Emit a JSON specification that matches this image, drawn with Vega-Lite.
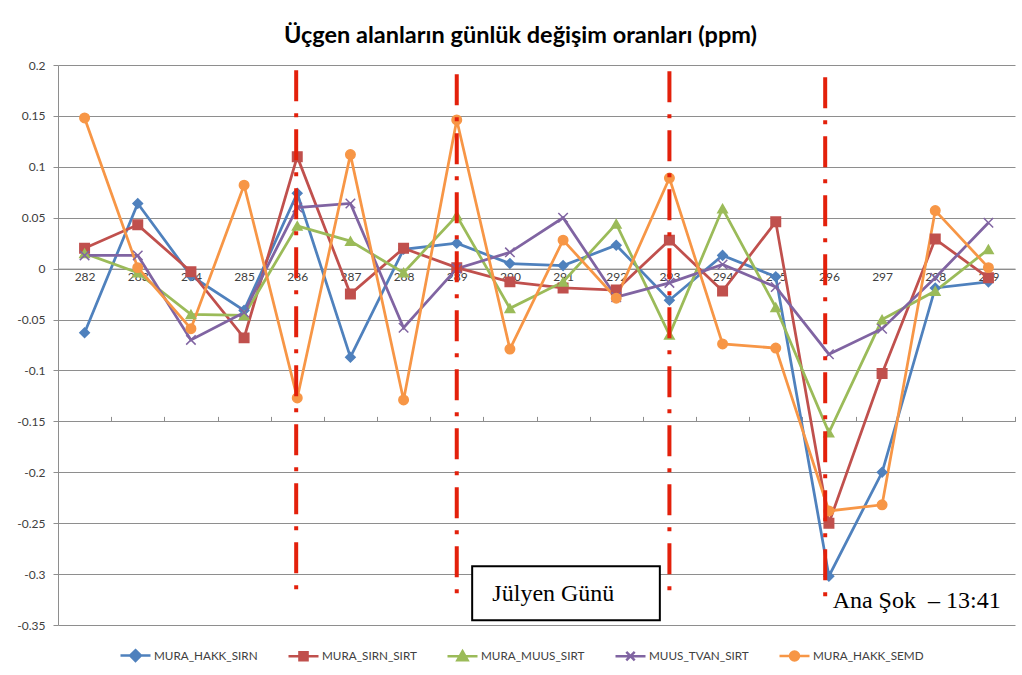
{
  "$schema": "https://vega.github.io/schema/vega-lite/v6.json",
  "autosize": {"type": "none"},
  "padding": {"left": 58, "top": 65, "right": 7, "bottom": 50},
  "width": 957,
  "height": 560,
  "background": "white",
  "config": {
    "view": {"stroke": null},
    "font": "Lato"
  },
  "title": {
    "text": "Üçgen alanların günlük değişim oranları (ppm)",
    "font": "Lato",
    "fontSize": 23.5,
    "fontWeight": "bold",
    "color": "#000000",
    "anchor": "middle",
    "dx": -16,
    "offset": 12
  },
  "datasets": {
    "rates": [
      {"day": 282, "series": "MURA_HAKK_SIRN", "value": -0.063},
      {"day": 283, "series": "MURA_HAKK_SIRN", "value": 0.064},
      {"day": 284, "series": "MURA_HAKK_SIRN", "value": -0.007},
      {"day": 285, "series": "MURA_HAKK_SIRN", "value": -0.041},
      {"day": 286, "series": "MURA_HAKK_SIRN", "value": 0.074},
      {"day": 287, "series": "MURA_HAKK_SIRN", "value": -0.087},
      {"day": 288, "series": "MURA_HAKK_SIRN", "value": 0.019},
      {"day": 289, "series": "MURA_HAKK_SIRN", "value": 0.025},
      {"day": 290, "series": "MURA_HAKK_SIRN", "value": 0.005},
      {"day": 291, "series": "MURA_HAKK_SIRN", "value": 0.003},
      {"day": 292, "series": "MURA_HAKK_SIRN", "value": 0.023},
      {"day": 293, "series": "MURA_HAKK_SIRN", "value": -0.031},
      {"day": 294, "series": "MURA_HAKK_SIRN", "value": 0.013},
      {"day": 295, "series": "MURA_HAKK_SIRN", "value": -0.008},
      {"day": 296, "series": "MURA_HAKK_SIRN", "value": -0.302},
      {"day": 297, "series": "MURA_HAKK_SIRN", "value": -0.2},
      {"day": 298, "series": "MURA_HAKK_SIRN", "value": -0.019},
      {"day": 299, "series": "MURA_HAKK_SIRN", "value": -0.013},
      {"day": 282, "series": "MURA_SIRN_SIRT", "value": 0.02},
      {"day": 283, "series": "MURA_SIRN_SIRT", "value": 0.043},
      {"day": 284, "series": "MURA_SIRN_SIRT", "value": -0.003},
      {"day": 285, "series": "MURA_SIRN_SIRT", "value": -0.068},
      {"day": 286, "series": "MURA_SIRN_SIRT", "value": 0.11},
      {"day": 287, "series": "MURA_SIRN_SIRT", "value": -0.025},
      {"day": 288, "series": "MURA_SIRN_SIRT", "value": 0.02},
      {"day": 289, "series": "MURA_SIRN_SIRT", "value": 0.001},
      {"day": 290, "series": "MURA_SIRN_SIRT", "value": -0.013},
      {"day": 291, "series": "MURA_SIRN_SIRT", "value": -0.019},
      {"day": 292, "series": "MURA_SIRN_SIRT", "value": -0.021},
      {"day": 293, "series": "MURA_SIRN_SIRT", "value": 0.028},
      {"day": 294, "series": "MURA_SIRN_SIRT", "value": -0.022},
      {"day": 295, "series": "MURA_SIRN_SIRT", "value": 0.046},
      {"day": 296, "series": "MURA_SIRN_SIRT", "value": -0.25},
      {"day": 297, "series": "MURA_SIRN_SIRT", "value": -0.103},
      {"day": 298, "series": "MURA_SIRN_SIRT", "value": 0.029},
      {"day": 299, "series": "MURA_SIRN_SIRT", "value": -0.009},
      {"day": 282, "series": "MURA_MUUS_SIRT", "value": 0.015},
      {"day": 283, "series": "MURA_MUUS_SIRT", "value": -0.004},
      {"day": 284, "series": "MURA_MUUS_SIRT", "value": -0.045},
      {"day": 285, "series": "MURA_MUUS_SIRT", "value": -0.046},
      {"day": 286, "series": "MURA_MUUS_SIRT", "value": 0.042},
      {"day": 287, "series": "MURA_MUUS_SIRT", "value": 0.027},
      {"day": 288, "series": "MURA_MUUS_SIRT", "value": -0.004},
      {"day": 289, "series": "MURA_MUUS_SIRT", "value": 0.052},
      {"day": 290, "series": "MURA_MUUS_SIRT", "value": -0.039},
      {"day": 291, "series": "MURA_MUUS_SIRT", "value": -0.013},
      {"day": 292, "series": "MURA_MUUS_SIRT", "value": 0.044},
      {"day": 293, "series": "MURA_MUUS_SIRT", "value": -0.065},
      {"day": 294, "series": "MURA_MUUS_SIRT", "value": 0.059},
      {"day": 295, "series": "MURA_MUUS_SIRT", "value": -0.038},
      {"day": 296, "series": "MURA_MUUS_SIRT", "value": -0.161},
      {"day": 297, "series": "MURA_MUUS_SIRT", "value": -0.05},
      {"day": 298, "series": "MURA_MUUS_SIRT", "value": -0.022},
      {"day": 299, "series": "MURA_MUUS_SIRT", "value": 0.019},
      {"day": 282, "series": "MUUS_TVAN_SIRT", "value": 0.013},
      {"day": 283, "series": "MUUS_TVAN_SIRT", "value": 0.013},
      {"day": 284, "series": "MUUS_TVAN_SIRT", "value": -0.07},
      {"day": 285, "series": "MUUS_TVAN_SIRT", "value": -0.043},
      {"day": 286, "series": "MUUS_TVAN_SIRT", "value": 0.06},
      {"day": 287, "series": "MUUS_TVAN_SIRT", "value": 0.064},
      {"day": 288, "series": "MUUS_TVAN_SIRT", "value": -0.058},
      {"day": 289, "series": "MUUS_TVAN_SIRT", "value": 0.0},
      {"day": 290, "series": "MUUS_TVAN_SIRT", "value": 0.016},
      {"day": 291, "series": "MUUS_TVAN_SIRT", "value": 0.05},
      {"day": 292, "series": "MUUS_TVAN_SIRT", "value": -0.028},
      {"day": 293, "series": "MUUS_TVAN_SIRT", "value": -0.014},
      {"day": 294, "series": "MUUS_TVAN_SIRT", "value": 0.004},
      {"day": 295, "series": "MUUS_TVAN_SIRT", "value": -0.018},
      {"day": 296, "series": "MUUS_TVAN_SIRT", "value": -0.084},
      {"day": 297, "series": "MUUS_TVAN_SIRT", "value": -0.059},
      {"day": 298, "series": "MUUS_TVAN_SIRT", "value": -0.009},
      {"day": 299, "series": "MUUS_TVAN_SIRT", "value": 0.045},
      {"day": 282, "series": "MURA_HAKK_SEMD", "value": 0.148},
      {"day": 283, "series": "MURA_HAKK_SEMD", "value": 0.001},
      {"day": 284, "series": "MURA_HAKK_SEMD", "value": -0.059},
      {"day": 285, "series": "MURA_HAKK_SEMD", "value": 0.082},
      {"day": 286, "series": "MURA_HAKK_SEMD", "value": -0.127},
      {"day": 287, "series": "MURA_HAKK_SEMD", "value": 0.112},
      {"day": 288, "series": "MURA_HAKK_SEMD", "value": -0.129},
      {"day": 289, "series": "MURA_HAKK_SEMD", "value": 0.146},
      {"day": 290, "series": "MURA_HAKK_SEMD", "value": -0.079},
      {"day": 291, "series": "MURA_HAKK_SEMD", "value": 0.028},
      {"day": 292, "series": "MURA_HAKK_SEMD", "value": -0.029},
      {"day": 293, "series": "MURA_HAKK_SEMD", "value": 0.089},
      {"day": 294, "series": "MURA_HAKK_SEMD", "value": -0.074},
      {"day": 295, "series": "MURA_HAKK_SEMD", "value": -0.078},
      {"day": 296, "series": "MURA_HAKK_SEMD", "value": -0.238},
      {"day": 297, "series": "MURA_HAKK_SEMD", "value": -0.232},
      {"day": 298, "series": "MURA_HAKK_SEMD", "value": 0.057},
      {"day": 299, "series": "MURA_HAKK_SEMD", "value": 0.001}
    ],
    "shocks": [
      {"day": 285.98, "top": 0.1948, "bottom": -0.3189},
      {"day": 289.0, "top": 0.1908, "bottom": -0.3228},
      {"day": 293.0, "top": 0.1938, "bottom": -0.3189},
      {"day": 295.93, "top": 0.1879, "bottom": -0.3238}
    ],
    "notes": [
      {"label": "Jülyen Günü"}
    ]
  },
  "resolve": {
    "scale": {"color": "independent", "fill": "independent", "shape": "independent"},
    "axis": {"x": "independent"}
  },
  "layer": [
    {
      "data": {"name": "rates"},
      "mark": {"type": "line", "strokeWidth": 2.75, "clip": false},
      "encoding": {
        "x": {
          "field": "day", "type": "quantitative",
          "scale": {"domain": [281.5, 299.5], "nice": false, "zero": false},
          "axis": {
            "values": [282, 283, 284, 285, 286, 287, 288, 289, 290, 291, 292, 293, 294, 295, 296, 297, 298, 299],
            "format": "d",
            "offset": -356.4,
            "ticks": false,
            "tickSize": 0,
            "labelPadding": 3,
            "labelFont": "Lato",
            "labelFontSize": 12,
            "labelColor": "#404040",
            "domain": true,
            "domainColor": "#8e8e8e",
            "domainWidth": 1,
            "grid": false,
            "title": null
          }
        },
        "y": {
          "field": "value", "type": "quantitative",
          "scale": {"domain": [-0.35, 0.2], "nice": false, "zero": false},
          "axis": {
            "values": [0.2, 0.15, 0.1, 0.05, 0, -0.05, -0.1, -0.15, -0.2, -0.25, -0.3, -0.35],
            "labelExpr": "'' + round(datum.value * 100) / 100",
            "labelFont": "Lato",
            "labelFontSize": 12,
            "labelColor": "#404040",
            "labelPadding": 8,
            "tickSize": 5,
            "tickColor": "#8e8e8e",
            "domainColor": "#8e8e8e",
            "grid": true,
            "gridColor": "#8e8e8e",
            "gridWidth": 1,
            "title": null
          }
        },
        "color": {
          "field": "series", "type": "nominal", "legend": null,
          "scale": {
            "domain": ["MURA_HAKK_SIRN", "MURA_SIRN_SIRT", "MURA_MUUS_SIRT", "MUUS_TVAN_SIRT", "MURA_HAKK_SEMD"],
            "range": ["#4F81BD", "#C0504D", "#9BBB59", "#8064A2", "#F79646"]
          }
        },
        "order": {"field": "day", "type": "quantitative"}
      }
    },
    {
      "data": {"name": "rates"},
      "mark": {"type": "point", "filled": false, "strokeWidth": 1.5, "opacity": 1, "size": 90, "clip": false},
      "encoding": {
        "x": {"field": "day", "type": "quantitative", "axis": null},
        "y": {"field": "value", "type": "quantitative"},
        "color": {
          "field": "series", "type": "nominal", "legend": null,
          "scale": {
            "domain": ["MURA_HAKK_SIRN", "MURA_SIRN_SIRT", "MURA_MUUS_SIRT", "MUUS_TVAN_SIRT", "MURA_HAKK_SEMD"],
            "range": ["#4F81BD", "#C0504D", "#9BBB59", "#8064A2", "#F79646"]
          }
        },
        "fill": {
          "field": "series", "type": "nominal", "legend": null,
          "scale": {
            "domain": ["MURA_HAKK_SIRN", "MURA_SIRN_SIRT", "MURA_MUUS_SIRT", "MUUS_TVAN_SIRT", "MURA_HAKK_SEMD"],
            "range": ["#4F81BD", "#C0504D", "#9BBB59", "#8064A2", "#F79646"]
          }
        },
        "shape": {
          "field": "series", "type": "nominal", "legend": null,
          "scale": {
            "domain": ["MURA_HAKK_SIRN", "MURA_SIRN_SIRT", "MURA_MUUS_SIRT", "MUUS_TVAN_SIRT", "MURA_HAKK_SEMD"],
            "range": ["diamond", "square", "triangle-up", "M-1,-1L1,1M-1,1L1,-1", "circle"]
          }
        }
      }
    },
    {
      "data": {"name": "rates"},
      "transform": [{"filter": "false"}],
      "mark": {"type": "point", "filled": false, "strokeWidth": 2.5, "opacity": 1},
      "encoding": {
        "color": {
          "field": "series", "type": "nominal",
          "scale": {
            "domain": ["MURA_HAKK_SIRN", "MURA_SIRN_SIRT", "MURA_MUUS_SIRT", "MUUS_TVAN_SIRT", "MURA_HAKK_SEMD"],
            "range": ["#4F81BD", "#C0504D", "#9BBB59", "#8064A2", "#F79646"]
          },
          "legend": {
            "orient": "none", "legendX": 61, "legendY": 574, "direction": "horizontal", "columns": 5,
            "title": null, "padding": 0, "symbolSize": 900, "symbolStrokeWidth": 2.5,
            "labelFont": "Lato", "labelFontSize": 11.7, "labelColor": "#404040", "labelOffset": 2,
            "columnPadding": 25
          }
        },
        "fill": {
          "field": "series", "type": "nominal",
          "scale": {
            "domain": ["MURA_HAKK_SIRN", "MURA_SIRN_SIRT", "MURA_MUUS_SIRT", "MUUS_TVAN_SIRT", "MURA_HAKK_SEMD"],
            "range": ["#4F81BD", "#C0504D", "#9BBB59", "#8064A2", "#F79646"]
          },
          "legend": {
            "orient": "none", "legendX": 61, "legendY": 574, "direction": "horizontal", "columns": 5,
            "title": null, "padding": 0, "symbolSize": 900, "symbolStrokeWidth": 2.5,
            "labelFont": "Lato", "labelFontSize": 11.7, "labelColor": "#404040", "labelOffset": 2,
            "columnPadding": 25
          }
        },
        "shape": {
          "field": "series", "type": "nominal",
          "scale": {
            "domain": ["MURA_HAKK_SIRN", "MURA_SIRN_SIRT", "MURA_MUUS_SIRT", "MUUS_TVAN_SIRT", "MURA_HAKK_SEMD"],
            "range": [
              "M-1,0H1M0,-0.36L0.36,0L0,0.36L-0.36,0Z",
              "M-1,0H1M-0.27,-0.27H0.27V0.27H-0.27Z",
              "M-1,0H1M0,-0.34L0.34,0.26H-0.34Z",
              "M-1,0H1M-0.28,-0.28L0.28,0.28M-0.28,0.28L0.28,-0.28",
              "M-1,0H1M0.3,0A0.3,0.3,0,1,1,-0.3,0A0.3,0.3,0,1,1,0.3,0Z"
            ]
          },
          "legend": {
            "orient": "none", "legendX": 61, "legendY": 574, "direction": "horizontal", "columns": 5,
            "title": null, "padding": 0, "symbolSize": 900, "symbolStrokeWidth": 2.5,
            "labelFont": "Lato", "labelFontSize": 11.7, "labelColor": "#404040", "labelOffset": 2,
            "columnPadding": 25
          }
        }
      }
    },
    {
      "data": {"name": "shocks"},
      "mark": {"type": "rule", "color": "#E3200B", "strokeWidth": 4, "strokeDash": [31, 12, 4, 12]},
      "encoding": {
        "x": {
          "field": "day", "type": "quantitative",
          "axis": {
            "values": [281.5, 282.5, 283.5, 284.5, 285.5, 286.5, 287.5, 288.5, 289.5, 290.5, 291.5, 292.5, 293.5, 294.5, 295.5, 296.5, 297.5, 298.5, 299.5],
            "offset": -356.4,
            "labels": false,
            "domain": false,
            "ticks": true,
            "tickSize": 5,
            "tickColor": "#8e8e8e",
            "grid": false,
            "title": null
          }
        },
        "y": {"field": "top", "type": "quantitative"},
        "y2": {"field": "bottom"}
      }
    },
    {
      "data": {"name": "notes"},
      "mark": {"type": "rect", "fill": "white", "stroke": "black", "strokeWidth": 2},
      "encoding": {
        "x": {"datum": 289.29, "type": "quantitative", "axis": null},
        "x2": {"datum": 292.82},
        "y": {"datum": -0.2924, "type": "quantitative"},
        "y2": {"datum": -0.3454}
      }
    },
    {
      "data": {"name": "notes"},
      "mark": {"type": "text", "text": "Jülyen Günü", "font": "Liberation Serif", "fontSize": 24, "color": "#000000", "align": "left", "baseline": "alphabetic"},
      "encoding": {
        "x": {"datum": 289.67, "type": "quantitative", "axis": null},
        "y": {"datum": -0.3268, "type": "quantitative"}
      }
    },
    {
      "data": {"name": "notes"},
      "mark": {"type": "text", "text": "Ana Şok\u00a0\u00a0– 13:41", "font": "Liberation Serif", "fontSize": 24, "color": "#000000", "align": "left", "baseline": "alphabetic"},
      "encoding": {
        "x": {"datum": 296.07, "type": "quantitative", "axis": null},
        "y": {"datum": -0.3337, "type": "quantitative"}
      }
    }
  ]
}
